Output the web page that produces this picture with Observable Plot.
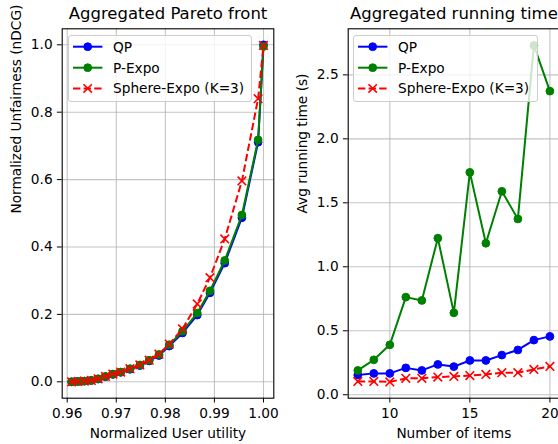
<!DOCTYPE html>
<html><head><meta charset="utf-8">
<script src="https://cdn.jsdelivr.net/npm/d3@7"></script>
<script src="https://cdn.jsdelivr.net/npm/@observablehq/plot@0.6"></script>
<style>
html,body{margin:0;padding:0;background:#fff;overflow:hidden;}
#wrap{position:relative;width:558px;height:444px;overflow:hidden;font-family:"DejaVu Sans",sans-serif;}
#wrap > svg{position:absolute;top:0;margin:0;max-width:none;}
.legend{position:absolute;box-sizing:border-box;border:1px solid #cccccc;border-radius:3px;background:rgba(255,255,255,0.8);}
.legend svg{position:absolute;left:-1px;top:-1px;overflow:visible;}
</style></head><body><div id="wrap"></div>
<script>
// ---- data ----
const seriesNames = ["QP", "P-Expo", "Sphere-Expo (K=3)"];
const paretoUtility = [0.9609, 0.9622, 0.9635, 0.9649, 0.9663, 0.9678, 0.9693, 0.9709, 0.9728, 0.9748, 0.9767, 0.9787, 0.9808, 0.9835, 0.9865, 0.9891, 0.9921, 0.9956, 0.9989, 1.0];
const paretoQP     = [0.000, 0.001, 0.002, 0.004, 0.008, 0.015, 0.022, 0.028, 0.037, 0.048, 0.062, 0.078, 0.106, 0.145, 0.198, 0.264, 0.352, 0.487, 0.711, 1.000];
const paretoPExpo  = [0.000, 0.001, 0.002, 0.004, 0.009, 0.016, 0.023, 0.029, 0.039, 0.050, 0.064, 0.081, 0.110, 0.150, 0.204, 0.270, 0.360, 0.495, 0.718, 0.995];
const paretoSphere = [0.000, 0.001, 0.002, 0.004, 0.009, 0.016, 0.023, 0.029, 0.039, 0.050, 0.064, 0.082, 0.112, 0.157, 0.231, 0.309, 0.424, 0.596, 0.840, 0.998];
const numItems   = [8, 9, 10, 11, 12, 13, 14, 15, 16, 17, 18, 19, 20];
const timeQP     = [0.154, 0.167, 0.167, 0.210, 0.190, 0.237, 0.220, 0.268, 0.268, 0.310, 0.350, 0.427, 0.456];
const timePExpo  = [0.190, 0.273, 0.390, 0.763, 0.737, 1.224, 0.640, 1.738, 1.184, 1.590, 1.374, 2.730, 2.373];
const timeSphere = [0.104, 0.104, 0.100, 0.128, 0.128, 0.138, 0.143, 0.150, 0.159, 0.172, 0.172, 0.198, 0.221];
const paretoXTicks = [0.96, 0.97, 0.98, 0.99, 1.00];
const paretoYTicks = [0.0, 0.2, 0.4, 0.6, 0.8, 1.0];
const timeXTicks = [10, 15, 20];
const timeYTicks = [0.0, 0.5, 1.0, 1.5, 2.0, 2.5];

// ---- styles ----
const colors = ["#0000ff", "#008000", "#ff0000"];
const FONT = "DejaVu Sans";
const FS = 13.7;

function seriesMarks(xs, ys, i) {
  const rows = xs.map((x, j) => ({x, y: ys[j]}));
  if (i === 2) {
    return [
      Plot.line(rows, {x: "x", y: "y", stroke: colors[i], strokeWidth: 2, strokeDasharray: "7.4,3.2", strokeLinecap: "butt"}),
      Plot.dot(rows, {x: "x", y: "y", symbol: "times", r: 4, stroke: colors[i], strokeWidth: 1.6})
    ];
  }
  return [
    Plot.line(rows, {x: "x", y: "y", stroke: colors[i], strokeWidth: 2}),
    Plot.dot(rows, {x: "x", y: "y", r: 3.9, fill: colors[i], stroke: colors[i], strokeWidth: 1})
  ];
}

function panel(o) {
  const svg = Plot.plot({
    width: o.width, height: 444,
    marginLeft: o.marginLeft, marginRight: o.marginRight, marginTop: 28.3, marginBottom: 46.3,
    style: {fontFamily: FONT, fontSize: FS + "px", color: "black", background: "transparent", overflow: "visible"},
    x: {domain: o.xDomain},
    y: {domain: o.yDomain},
    marks: [
      Plot.gridX(o.xTicks, {stroke: "#b0b0b0", strokeOpacity: 0.75, strokeWidth: 1.1}),
      Plot.gridY(o.yTicks, {stroke: "#b0b0b0", strokeOpacity: 0.75, strokeWidth: 1.1}),
      ...o.series.flatMap((ys, i) => seriesMarks(o.xs, ys, i)),
      Plot.frame({stroke: "black", strokeWidth: 1.1}),
      Plot.axisX({ticks: o.xTicks, tickFormat: o.xFmt, tickSize: 4.8, tickPadding: 4.8, label: null, fontSize: FS}),
      Plot.axisY({ticks: o.yTicks, tickFormat: o.yFmt, tickSize: 4.8, tickPadding: 4.8, label: null, fontSize: FS}),
      Plot.text([o.title], {frameAnchor: "top", dy: -15.3, lineAnchor: "middle", fontSize: 16.5, fill: "black"}),
      Plot.text([o.xLabel], {frameAnchor: "bottom", dy: 35.5, lineAnchor: "middle", fontSize: FS, fill: "black"}),
      Plot.text([o.yLabel], {frameAnchor: "left", dx: -46, rotate: -90, lineAnchor: "middle", fontSize: FS, fill: "black"})
    ]
  });
  svg.style.left = o.left + "px";
  document.getElementById("wrap").appendChild(svg);
}

function legend(left, width) {
  const div = d3.select("#wrap").append("div").attr("class", "legend")
    .style("left", left + "px").style("top", "35.3px")
    .style("width", width + "px").style("height", "66.4px");
  const svg = div.append("svg").attr("width", width).attr("height", 67);
  const rowsY = [11.7, 32.7, 53.4];
  seriesNames.forEach((name, i) => {
    const y = rowsY[i];
    const g = svg.append("g");
    const ln = g.append("line").attr("x1", 5).attr("x2", 34.4).attr("y1", y).attr("y2", y)
      .attr("stroke", colors[i]).attr("stroke-width", 2);
    if (i === 2) {
      ln.attr("stroke-dasharray", "7.4,3.2").attr("stroke-linecap", "butt");
      const c = 19.7, r = 4.2;
      g.append("path").attr("d", `M${c - r},${y - r}L${c + r},${y + r}M${c - r},${y + r}L${c + r},${y - r}`)
        .attr("stroke", colors[i]).attr("stroke-width", 1.6).attr("fill", "none");
    } else {
      g.append("circle").attr("cx", 19.7).attr("cy", y).attr("r", 3.9)
        .attr("fill", colors[i]).attr("stroke", colors[i]).attr("stroke-width", 1);
    }
    g.append("text").attr("x", 45).attr("y", y).attr("dy", "0.36em")
      .attr("font-family", FONT).attr("font-size", FS).attr("fill", "black").text(name);
  });
}

panel({
  left: 0, width: 290, marginLeft: 61.7, marginRight: 16.7,
  xDomain: [0.95898, 1.0021], yDomain: [-0.0487, 1.0475],
  xTicks: paretoXTicks, yTicks: paretoYTicks, xFmt: d3.format(".2f"), yFmt: d3.format(".1f"),
  xs: paretoUtility, series: [paretoQP, paretoPExpo, paretoSphere],
  title: "Aggregated Pareto front", xLabel: "Normalized User utility", yLabel: "Normalized Unfairness (nDCG)"
});
panel({
  left: 280, width: 300, marginLeft: 67.7, marginRight: 21,
  xDomain: [7.4, 20.6], yDomain: [-0.027, 2.86],
  xTicks: timeXTicks, yTicks: timeYTicks, xFmt: d3.format("d"), yFmt: d3.format(".1f"),
  xs: numItems, series: [timeQP, timePExpo, timeSphere],
  title: "Aggregated running time", xLabel: "Number of items", yLabel: "Avg running time (s)"
});
legend(68.3, 183.4);
legend(353.3, 185);
</script></body></html>
